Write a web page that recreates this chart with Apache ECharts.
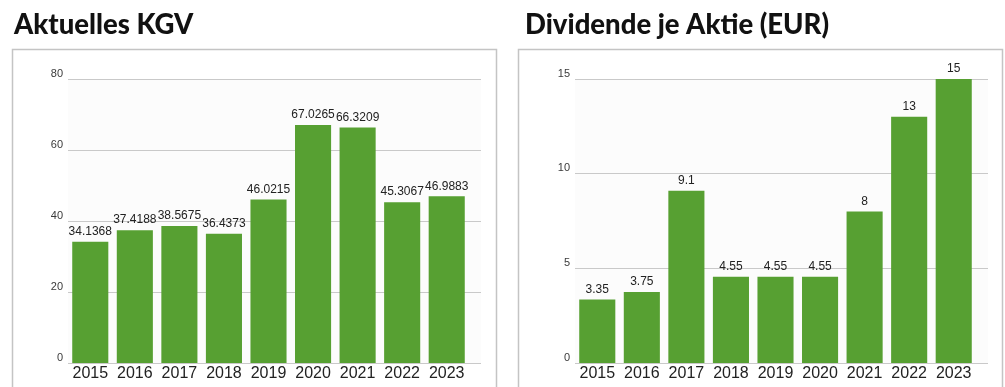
<!DOCTYPE html>
<html>
<head>
<meta charset="utf-8">
<script src="https://cdn.jsdelivr.net/npm/echarts@6/dist/echarts.min.js"></script>
<style>
  html, body { margin: 0; padding: 0; background: #fff; }
  #chart { width: 1005px; height: 387px; }
</style>
</head>
<body>
<div id="chart"></div>
<script>
// Years shown on both panels
const years = ['2015', '2016', '2017', '2018', '2019', '2020', '2021', '2022', '2023'];
// Price/earnings ratio per year
const kgvValues = [34.1368, 37.4188, 38.5675, 36.4373, 46.0215, 67.0265, 66.3209, 45.3067, 46.9883];
// Dividend per share in EUR
const dividendValues = [3.35, 3.75, 9.1, 4.55, 4.55, 4.55, 8, 13, 15];
// Y-axis ranges
const kgvAxis = { min: 0, max: 80, interval: 20 };
const dividendAxis = { min: 0, max: 15, interval: 5 };
const panelTitles = ['Aktuelles KGV', 'Dividende je Aktie (EUR)'];

const barColor = '#57a032';
const gridColor = '#c9c9c9';
const plotBg = '#fcfcfc';

const chart = echarts.init(document.getElementById('chart'), null, { renderer: 'canvas' });

// Each panel: one grid holding the bars, one wider grid holding the gridlines and y labels
const panels = [
  { left: 68, values: kgvValues, axis: kgvAxis },
  { left: 575, values: dividendValues, axis: dividendAxis }
];
const plotTop = 79, plotHeight = 284, barAreaWidth = 401, lineAreaWidth = 413;

const grid = [], xAxis = [], yAxis = [], series = [];
panels.forEach((p, i) => {
  // gridline grid
  grid.push({ left: p.left, top: plotTop, width: lineAreaWidth, height: plotHeight,
    show: true, backgroundColor: plotBg, borderWidth: 0 });
  xAxis.push({ type: 'category', gridIndex: 2 * i, data: years, show: false });
  yAxis.push({ type: 'value', gridIndex: 2 * i, min: p.axis.min, max: p.axis.max, interval: p.axis.interval,
    axisLine: { show: false }, axisTick: { show: false },
    splitLine: { show: true, lineStyle: { color: gridColor, width: 1 } },
    axisLabel: { color: '#3a3a3a', fontFamily: 'Liberation Sans, Arial, sans-serif', fontSize: 11,
      margin: 5, verticalAlign: 'bottom', lineHeight: 11, padding: [0, 0, 0, 0] } });
  // bar grid
  grid.push({ left: p.left, top: plotTop, width: barAreaWidth, height: plotHeight });
  xAxis.push({ type: 'category', gridIndex: 2 * i + 1, data: years,
    axisLine: { show: false }, axisTick: { show: false },
    axisLabel: { interval: 0, color: '#222', fontFamily: 'Liberation Sans, Arial, sans-serif',
      fontSize: 16, margin: 3 } });
  yAxis.push({ type: 'value', gridIndex: 2 * i + 1, min: p.axis.min, max: p.axis.max, interval: p.axis.interval,
    show: false, splitLine: { show: false } });
  series.push({
    type: 'bar', xAxisIndex: 2 * i + 1, yAxisIndex: 2 * i + 1,
    data: p.values, barCategoryGap: '19%',
    itemStyle: { color: barColor },
    label: { show: true, position: 'top', distance: 4, color: '#222',
      fontFamily: 'Liberation Sans, Arial, sans-serif', fontSize: 12,
      formatter: (d) => String(d.value) },
    silent: true
  });
});

const titleStyle = { fontFamily: 'Lato', fontWeight: 900, fontSize: 27.5, color: '#111' };

chart.setOption({
  animation: false,
  backgroundColor: '#fff',
  title: [
    { text: panelTitles[0], left: 9, top: 6, textStyle: titleStyle },
    { text: panelTitles[1], left: 520, top: 6, textStyle: titleStyle }
  ],
  graphic: [
    { type: 'rect', shape: { x: 12.5, y: 49.5, width: 484, height: 360 },
      style: { fill: 'none', stroke: '#c4c4c4', lineWidth: 1.5 }, z: -1 },
    { type: 'rect', shape: { x: 518.5, y: 49.5, width: 484, height: 360 },
      style: { fill: 'none', stroke: '#c4c4c4', lineWidth: 1.5 }, z: -1 }
  ],
  grid, xAxis, yAxis, series
});
</script>
</body>
</html>
